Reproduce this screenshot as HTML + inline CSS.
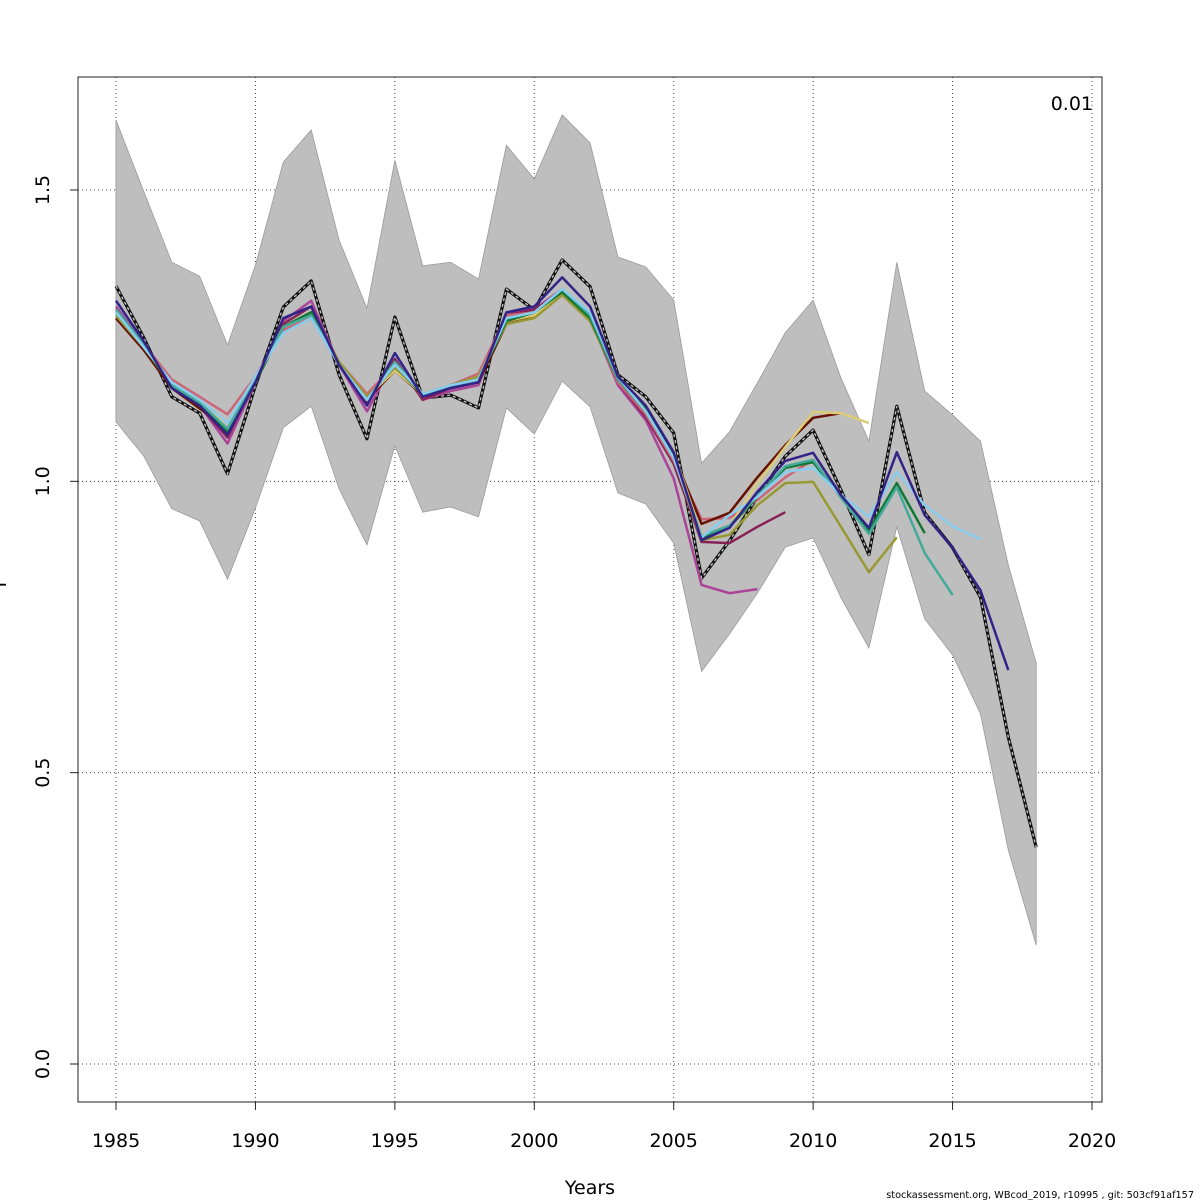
<!DOCTYPE html>
<html><head><meta charset="utf-8"><style>
html,body{margin:0;padding:0;background:#fff;}
svg{display:block;font-family:"DejaVu Sans","Liberation Sans",sans-serif;}
</style></head><body>
<svg id="chart" width="1200" height="1200" viewBox="0 0 1200 1200" xmlns="http://www.w3.org/2000/svg"></svg>
<script>
const years = [1985,1986,1987,1988,1989,1990,1991,1992,1993,1994,1995,1996,1997,1998,1999,2000,2001,2002,2003,2004,2005,2006,2007,2008,2009,2010,2011,2012,2013,2014,2015,2016,2017,2018];
const bandUpper = [1.620,1.497,1.376,1.352,1.234,1.371,1.548,1.603,1.414,1.297,1.551,1.370,1.376,1.347,1.577,1.519,1.629,1.581,1.385,1.368,1.311,1.031,1.085,1.169,1.255,1.311,1.177,1.069,1.376,1.155,1.114,1.069,0.856,0.688];
const bandLower = [1.102,1.043,0.953,0.932,0.832,0.954,1.092,1.129,0.987,0.891,1.061,0.947,0.956,0.939,1.126,1.081,1.172,1.128,0.980,0.961,0.894,0.674,0.738,0.808,0.887,0.903,0.800,0.714,0.922,0.764,0.702,0.601,0.367,0.204];
const refSeries = [1.335,1.246,1.145,1.117,1.013,1.164,1.299,1.344,1.183,1.073,1.282,1.143,1.148,1.126,1.330,1.294,1.380,1.334,1.183,1.145,1.083,0.834,0.898,0.973,1.043,1.088,0.985,0.874,1.129,0.946,0.886,0.801,0.561,0.372];
const peel2017 = [1.31,1.24,1.16,1.13,1.08,1.17,1.28,1.30,1.20,1.13,1.22,1.145,1.16,1.17,1.29,1.30,1.35,1.30,1.18,1.13,1.05,0.899,0.920,0.982,1.035,1.049,0.976,0.920,1.050,0.942,0.886,0.813,0.676];
const peel2016 = [1.29,1.23,1.17,1.14,1.10,1.18,1.255,1.28,1.20,1.14,1.20,1.15,1.165,1.175,1.28,1.29,1.33,1.29,1.18,1.12,1.04,0.904,0.942,0.973,1.016,1.023,0.976,0.939,1.016,0.959,0.923,0.901];
const peel2015 = [1.295,1.235,1.165,1.135,1.09,1.175,1.265,1.285,1.20,1.14,1.205,1.15,1.16,1.175,1.28,1.29,1.33,1.285,1.175,1.12,1.04,0.906,0.924,0.975,1.026,1.037,0.972,0.910,0.990,0.877,0.805];
const peel2014 = [1.29,1.23,1.165,1.13,1.085,1.17,1.265,1.29,1.20,1.14,1.20,1.148,1.165,1.175,1.275,1.29,1.325,1.28,1.175,1.125,1.045,0.904,0.922,0.973,1.023,1.033,0.973,0.916,0.997,0.911];
const peel2013 = [1.285,1.23,1.165,1.135,1.09,1.175,1.265,1.285,1.205,1.145,1.195,1.15,1.165,1.18,1.27,1.28,1.32,1.275,1.175,1.125,1.04,0.899,0.908,0.959,0.997,0.999,0.922,0.844,0.904];
const peel2012 = [1.285,1.23,1.165,1.13,1.10,1.175,1.265,1.285,1.205,1.145,1.19,1.15,1.165,1.18,1.275,1.285,1.32,1.275,1.18,1.13,1.05,0.908,0.923,0.997,1.059,1.119,1.117,1.100];
const peel2011 = [1.28,1.225,1.16,1.125,1.09,1.17,1.265,1.29,1.205,1.14,1.19,1.148,1.16,1.17,1.27,1.285,1.32,1.275,1.175,1.12,1.045,0.927,0.946,1.007,1.062,1.109,1.117];
const peel2010 = [1.29,1.235,1.175,1.145,1.115,1.18,1.26,1.28,1.205,1.15,1.20,1.145,1.165,1.185,1.285,1.29,1.325,1.28,1.17,1.115,1.035,0.935,0.937,0.968,1.007,1.037];
const peel2009 = [1.295,1.235,1.165,1.13,1.075,1.175,1.27,1.30,1.20,1.135,1.21,1.14,1.16,1.17,1.285,1.295,1.325,1.285,1.17,1.11,1.03,0.896,0.894,0.922,0.947];
const peel2008 = [1.30,1.235,1.165,1.13,1.065,1.17,1.275,1.31,1.20,1.12,1.21,1.14,1.155,1.165,1.29,1.295,1.33,1.28,1.165,1.105,1.005,0.822,0.808,0.815];
const xTicks = [1985,1990,1995,2000,2005,2010,2015,2020];
const yTicks = [0.0,0.5,1.0,1.5];
const yTickLabels = ["0.0","0.5","1.0","1.5"];

const NS="http://www.w3.org/2000/svg";
const svg=document.getElementById('chart');
const X0=78,X1=1102,Y0=77,Y1=1102;
function xs(yr){return 116+(yr-1985)*(1092-116)/35;}
function ys(v){return 1064-v*(1064-190)/1.5;}
function mk(tag,attrs,parent){const e=document.createElementNS(NS,tag);for(const k in attrs)e.setAttribute(k,attrs[k]);(parent||svg).appendChild(e);return e;}

xTicks.forEach(t=>{
  const g=mk('line',{x1:xs(t),x2:xs(t),y1:Y0,y2:Y1,stroke:'#444','stroke-width':1,'stroke-dasharray':'1,3'});
  
  
});
yTicks.forEach(t=>{
  const g=mk('line',{x1:X0,x2:X1,y1:ys(t),y2:ys(t),stroke:'#444','stroke-width':1,'stroke-dasharray':'1,3'});
  
  
});

let pts=years.map((y,i)=>xs(y)+','+ys(bandUpper[i]));
for(let i=years.length-1;i>=0;i--)pts.push(xs(years[i])+','+ys(bandLower[i]));
const band=mk('polygon',{points:pts.join(' '),fill:'#bebebe',stroke:'#9a9a9a','stroke-width':0.8});



function path(vals){return vals.map((v,i)=>(i?'L':'M')+xs(years[i]).toFixed(1)+','+ys(v).toFixed(1)).join(' ');}

const refA=mk('path',{d:path(refSeries),fill:'none',stroke:'#111','stroke-width':3.2,'stroke-linejoin':'round'});


const refB=mk('path',{d:path(refSeries),fill:'none',stroke:'#c8c8c8','stroke-width':1.3,'stroke-dasharray':'3,3'});



const peels=[[peel2008,'#aa4499','peel-2008'],[peel2009,'#882255','peel-2009'],[peel2010,'#cc6677','peel-2010'],[peel2011,'#661100','peel-2011'],[peel2012,'#ddcc77','peel-2012'],[peel2013,'#999933','peel-2013'],[peel2014,'#117733','peel-2014'],[peel2015,'#44aa99','peel-2015'],[peel2016,'#88ccee','peel-2016'],[peel2017,'#332288','peel-2017']];
peels.forEach(p=>{
  const l=mk('path',{d:path(p[0]),fill:'none',stroke:p[1],'stroke-width':2.5,'stroke-linejoin':'round'});
  
  
});

const box=mk('rect',{x:X0,y:Y0,width:X1-X0,height:Y1-Y0,fill:'none',stroke:'#222','stroke-width':1});



xTicks.forEach(t=>{
  const tk=mk('line',{x1:xs(t),x2:xs(t),y1:Y1,y2:Y1+8,stroke:'#222'});
  
  
  const tx=mk('text',{x:xs(t),y:1147,'text-anchor':'middle','font-size':19,fill:'#000'});
  tx.textContent=t;
  
  
});
yTicks.forEach((t,i)=>{
  const tk=mk('line',{x1:X0-8,x2:X0,y1:ys(t),y2:ys(t),stroke:'#222'});
  
  
  const tx=mk('text',{x:0,y:0,'text-anchor':'middle','font-size':19,fill:'#000',transform:'translate(49,'+ys(t)+') rotate(-90)'});
  tx.textContent=yTickLabels[i];
  
  
});
</script>
<svg style="position:absolute;left:0;top:0" width="1200" height="1200">
<text x="590" y="1194" text-anchor="middle" font-size="19" font-family="DejaVu Sans, Liberation Sans, sans-serif">Years</text>
<text transform="translate(6,582) rotate(-90)" text-anchor="middle" font-size="19" font-family="DejaVu Sans, Liberation Sans, sans-serif">F</text>
<text x="1093" y="110" text-anchor="end" font-size="19" font-family="DejaVu Sans, Liberation Sans, sans-serif">0.01</text>
<text x="1194" y="1198" text-anchor="end" font-size="9.7" font-family="DejaVu Sans, Liberation Sans, sans-serif">stockassessment.org, WBcod_2019, r10995 , git: 503cf91af157</text>
</svg>
</body></html>
